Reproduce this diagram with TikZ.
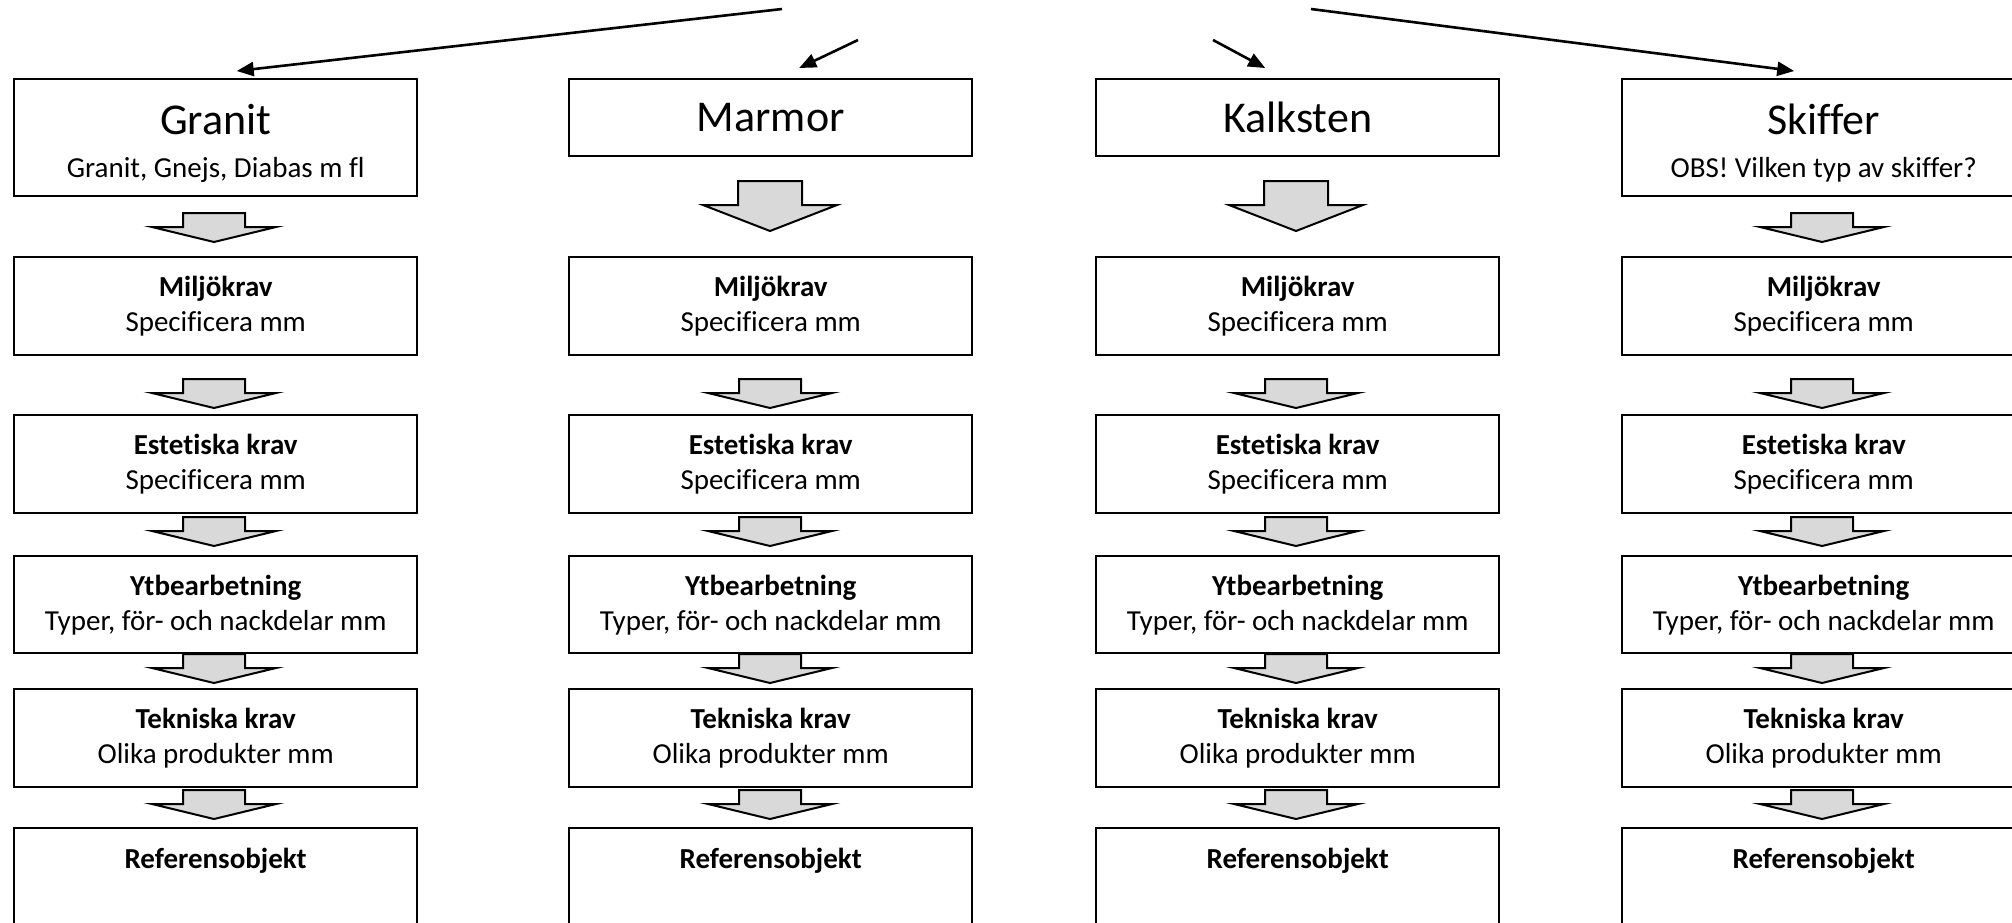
\documentclass[tikz,border=0pt]{standalone}
\usepackage{fontspec}
\setmainfont{Carlito}[Ligatures=NoCommon]
\usetikzlibrary{arrows.meta}
\definecolor{arrowgray}{RGB}{217,217,217}
\newcommand\smallarr[2]{%
  \draw[blockarrow] ({#1-31},{#2}) -- ({#1+31},{#2}) -- ({#1+31},{#2+14}) -- ({#1+62},{#2+14}) -- ({#1},{#2+29}) -- ({#1-62},{#2+14}) -- ({#1-31},{#2+14}) -- cycle;}
\newcommand\bigarr[2]{%
  \draw[blockarrow] ({#1-32},{#2}) -- ({#1+32},{#2}) -- ({#1+32},{#2+24}) -- ({#1+67},{#2+24}) -- ({#1},{#2+50}) -- ({#1-67},{#2+24}) -- ({#1-32},{#2+24}) -- cycle;}
\begin{document}
\begin{tikzpicture}[x=1pt,y=-1pt,
  box/.style={draw, line width=2.4pt, minimum width=403pt, inner sep=0pt, align=center, anchor=north west, font=\fontsize{29}{35}\selectfont},
  blockarrow/.style={draw, line width=2pt, fill=arrowgray, line join=miter},
  thinarrow/.style={line width=2.6pt, -{Triangle[length=17pt,width=14pt]}}]
\useasboundingbox (0,0) rectangle (2012,922);
\clip (0,0) rectangle (2012,922);

% top boxes
\node[box, minimum height=117pt] (g0) at (13,78) {{\fontsize{44}{50}\selectfont\rule{0pt}{42pt}Granit}\\[8pt]Granit, Gnejs, Diabas m fl};
\node[box, minimum height=77pt] (m0) at (568,78) {\fontsize{44}{50}\selectfont Marmor};
\node[box, minimum height=77pt] (k0) at (1095,78) {\fontsize{44}{50}\selectfont Kalksten};
\node[box, minimum height=117pt] (s0) at (1621,78) {{\fontsize{44}{50}\selectfont\rule{0pt}{42pt}Skiffer}\\[8pt]OBS! Vilken typ av skiffer?};

% lower boxes
\foreach \c/\x in {g/13, m/568, k/1095, s/1621}{
  \node[box, minimum height=98pt] (\c1) at (\x,256) {\textbf{Miljökrav}\\Specificera mm};
  \node[box, minimum height=98pt] (\c2) at (\x,414) {\textbf{Estetiska krav}\\Specificera mm};
  \node[box, minimum height=97pt] (\c3) at (\x,555) {\textbf{Ytbearbetning}\\Typer, för- och nackdelar mm};
  \node[box, minimum height=98pt] (\c4) at (\x,688) {\textbf{Tekniska krav}\\Olika produkter mm};
  \node[box, minimum height=0pt, text height=40pt, text depth=83pt] (\c5) at (\x,827) {\textbf{Referensobjekt}};
}

% block arrows
\smallarr{214}{213}
\bigarr{770}{181}
\bigarr{1296}{181}
\smallarr{1822}{213}
\foreach \cx in {214,770,1296,1822}{
  \smallarr{\cx}{379}
  \smallarr{\cx}{517}
  \smallarr{\cx}{654}
  \smallarr{\cx}{790}
}

% thin arrows from top
\coordinate (sg) at (782,9);
\coordinate (sm) at (858,40);
\coordinate (sk) at (1213,40);
\coordinate (ss) at (1311,9);
\draw[thinarrow] (sg) -- ([xshift=21pt,yshift=7pt]g0.north);
\draw[thinarrow] (sm) -- ([xshift=28.5pt,yshift=10pt]m0.north);
\draw[thinarrow] (sk) -- ([xshift=-32.5pt,yshift=10pt]k0.north);
\draw[thinarrow] (ss) -- ([xshift=-29.5pt,yshift=7pt]s0.north);
\end{tikzpicture}
\end{document}
